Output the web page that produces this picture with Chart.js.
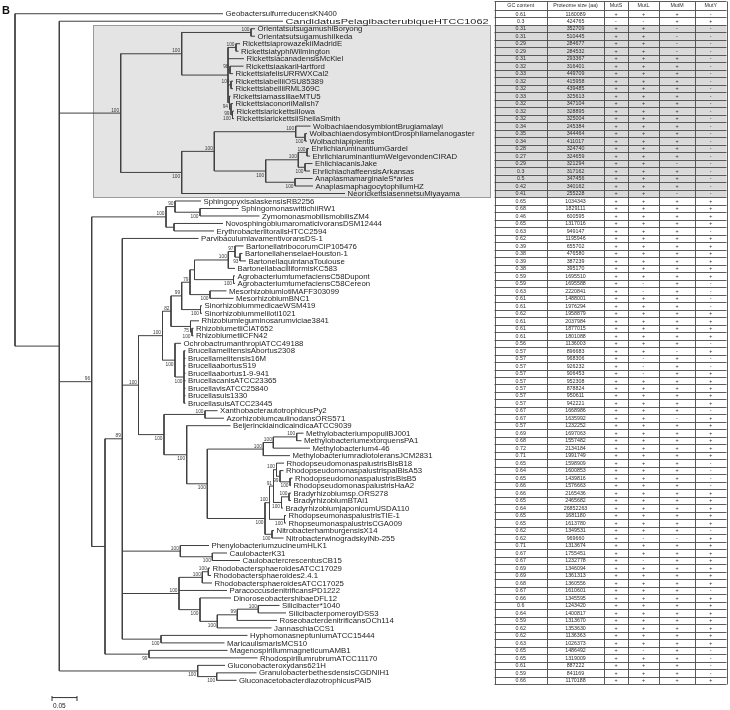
<!DOCTYPE html>
<html>
<head>
<meta charset="utf-8">
<script src="https://cdn.jsdelivr.net/npm/chart.js@4.4.1/dist/chart.umd.min.js"></script>
<style>
html, body { margin: 0; padding: 0; background: #fff; }
canvas { display: block; }
</style>
</head>
<body>
<canvas id="tree_chart" width="730" height="710"></canvas>
<script>
// leaf order = table row order
var taxa = [
    'GeobactersulfurreducensKN400', 'CandidatusPelagibacterubiqueHTCC1062',
    'OrientatsutsugamushiBoryong', 'OrientatsutsugamushiIkeda',
    'RickettsiaprowazekiiMadridE', 'RickettsiatyphiWilmington', 'RickettsiacanadensisMcKiel',
    'RickettsiaakariHartford', 'RickettsiafelisURRWXCal2', 'RickettsiabelliiOSU85389',
    'RickettsiabelliiRML369C', 'RickettsiamassiliaeMTU5', 'RickettsiaconoriiMalish7',
    'RickettsiarickettsiiIowa', 'RickettsiarickettsiiSheilaSmith',
    'WolbachiaendosymbiontBrugiamalayi', 'WolbachiaendosymbiontDrosphilamelanogaster', 'Wolbachiapipientis',
    'EhrlichiaruminantiumGardel', 'EhrlichiaruminantiumWelgevondenCIRAD', 'EhlichiacanisJake',
    'EhrlichiachaffeensisArkansas', 'AnaplasmamarginaleS*aries', 'AnaplasmaphagocytophilumHZ',
    'NeorickettsiasennetsuMiyayama',
    'SphingopyxisalaskensisRB2256', 'SphingomonaswittichiiRW1', 'ZymomonasmobilismobilisZM4',
    'NovosphingobiumaromaticivoransDSM12444', 'ErythrobacterlitoralisHTCC2594',
    'ParvibaculumlavamentivoransDS-1',
    'BartonellatribocorumCIP105476', 'BartonellahenselaeHouston-1', 'BartonellaquintanaToulouse',
    'BartonellabacilliformisKC583', 'AgrobacteriumtumefaciensC58Dupont', 'AgrobacteriumtumefaciensC58Cereon',
    'MesorhizobiumlotiMAFF303099', 'MesorhizobiumBNC1', 'SinorhizobiummedicaeWSM419',
    'Sinorhizobiummeliloti1021', 'Rhizobiumleguminosarumviciae3841', 'RhizobiumetliCIAT652',
    'RhizobiumetliCFN42', 'OchrobactrumanthropiATCC49188', 'BrucellamelitensisAbortus2308',
    'Brucellamelitensis16M', 'BrucellaabortusS19', 'Brucellaabortus1-9-941', 'BrucellacanisATCC23365',
    'BrucellavisATCC25840', 'Brucellasuis1330', 'BrucellasuisATCC23445',
    'XanthobacterautotrophicusPy2', 'AzorhizobiumcaulinodansORS571', 'BeijerinckiaindicaindicaATCC9039',
    'MethylobacteriumpopuliBJ001', 'MethylobacteriumextorquensPA1', 'Methylobacterium4-46',
    'MethylobacteriumradiotoleransJCM2831', 'RhodopseudomonaspalustrisBisB18',
    'RhodopseudomonaspalustrispalBisA53', 'RhodopseudomonaspalustrisBisB5', 'RhodopseudomonaspalustrisHaA2',
    'Bradyrhizobiumsp.ORS278', 'BradyrhizobiumBTAi1', 'BradyrhizobiumjaponicumUSDA110',
    'RhodopseumonaspalustrisTIE-1', 'RhopseumonaspalustrisCGA009', 'NitrobacterhamburgensisX14',
    'NitrobacterwinogradskyiNb-255', 'PhenylobacteriumzucineumHLK1', 'CaulobacterK31',
    'CaulobactercrescentusCB15', 'RhodobactersphaeroidesATCC17029', 'Rhodobactersphaeroides2.4.1',
    'RhodobactersphaeroidesATCC17025', 'ParacoccusdenitrificansPD1222', 'DinoroseobactershibaeDFL12',
    'Silicibacter*1040', 'SilicibacterpomeroyiDSS3', 'RoseobacterdenitrificansOCh114', 'JannaschiaCCS1',
    'HyphomonasneptuniumATCC15444', 'MaricaulismarisMCS10', 'MagenospirillummagneticumAMB1',
    'RhodospirillumrubrumATCC11170', 'Gluconobacteroxydans621H', 'GranulobacterbethesdensisCGDNIH1',
    'GluconacetobacterdiazotrophicusPAI5'
];

var gcContent = [
    0.61, 0.3, 0.31, 0.31, 0.29, 0.29, 0.31, 0.32, 0.33, 0.32,
    0.32, 0.33, 0.32, 0.32, 0.32, 0.34, 0.35, 0.34, 0.28, 0.27,
    0.29, 0.3, 0.5, 0.42, 0.41, 0.65, 0.68, 0.46, 0.65, 0.63,
    0.62, 0.39, 0.38, 0.39, 0.38, 0.59, 0.59, 0.63, 0.61, 0.61,
    0.62, 0.61, 0.61, 0.61, 0.56, 0.57, 0.57, 0.57, 0.57, 0.57,
    0.57, 0.57, 0.57, 0.67, 0.67, 0.57, 0.69, 0.68, 0.72, 0.71,
    0.65, 0.64, 0.65, 0.66, 0.66, 0.65, 0.64, 0.65, 0.65, 0.62,
    0.62, 0.71, 0.67, 0.67, 0.69, 0.69, 0.68, 0.67, 0.66, 0.6,
    0.64, 0.59, 0.62, 0.62, 0.63, 0.65, 0.65, 0.61, 0.59, 0.66
];

var proteomeSize = [
    1160089, 424765, 352709, 510445, 284677, 284532, 293367, 316401, 449709, 415958,
    439485, 325613, 347104, 328895, 325004, 245384, 344464, 411017, 324740, 324659,
    321294, 317162, 347456, 340162, 255228, 1034343, 1829111, 600595, 1317016, 949147,
    1195946, 655702, 476580, 387239, 395170, 1695510, 1695588, 2220841, 1488001, 1976294,
    1958879, 2037984, 1877015, 1801088, 1136003, 896683, 968306, 926232, 906453, 952308,
    878824, 950611, 942221, 1668986, 1635992, 1232252, 1697063, 1557482, 2134184, 1991749,
    1598909, 1600853, 1439816, 1576663, 2165436, 2465682, 26852263, 1681180, 1613780, 1349531,
    969660, 1313674, 1755451, 1232778, 1346094, 1361313, 1360556, 1610601, 1345595, 1243420,
    1400817, 1313670, 1353630, 1136363, 1026373, 1486492, 1319009, 887222, 841169, 1170188
];

// presence (+) / absence (-) per row, ten rows per block
var mutS = ('+-++++++++' + '++++++++++' + '++++++++++' + '++++++++++' + '++++++++++' +
            '++++++++++' + '++++++++++' + '++++++++++' + '++++++++++').split('');
var mutL = ('+-++++++++' + '++++++++++' + '++++++++++' + '++++++--++' + '++++++---+' +
            '++++++++++' + '++++++++++' + '-++-++++++' + '+++++-++++').split('');
var mutM = ('++----++++' + '++++++++++' + '-+++-+++++' + '++++++++++' + '+++++-++++' +
            '++++-+++++' + '++++++++++' + '-+++++++++' + '++++++++++').split('');
var mutY = ('-+--------' + '----------' + '-----++++-' + '++++++----' + '++++-+--++' +
            '+++-++++++' + '----+++++-' + '+++++++-++' + '+++++----+').split('');

var tableHeaders = ['GC content', 'Proteome size (aa)', 'MutS', 'MutL', 'MutM', 'MutY'];

// tree, leaves given by row index, internal labels = bootstrap
var treeNewick = [
    '(0:0.416,(1:0.4474,',
    '(((2:0.008,3:0.008)100:0.1386,((4:0.008,5:0.005)100:0.016,6:0.032,(7:0.027,8:0.006)98:0.004,',
    '(9:0.004,10:0.004)100:0.006,(11:0.002,(12:0.004,(13:0.003,14:0.003)100:0.003)99:0.003)94:0.003):0.0926)100:0.122,',
    '(((15:0.0296,(16:0.004,17:0.004)100:0.0186)100:0.1628,(((18:0.004,19:0.006)100:0.0174,',
    '(20:0.015,21:0.01)100:0.0134)100:0.0652,(22:0.035,23:0.036)100:0.0586)100:0.1028)100:0.0652,',
    '24:0.3266)100:0.122)100:0.1228,',
    '(((25:0.052,(26:0.077,27:0.119)100:0.05)90:0.018,(28:0.098,29:0.08):0.016)100:0.1486,',
    '((30:0.1524,',
    '((((((((31:0.017,(32:0.005,33:0.012)93:0.01)97:0.0134,34:0.0134)100:0.0676,(35:0.003,36:0.003)100:0.078):0.009,',
    '(37:0.033,38:0.047)100:0.04)79:0.0166,(39:0.003,40:0.003)100:0.0376)99:0.0214,',
    '(41:0.017,(42:0.003,43:0.003)100:0.003)75:0.039)82:0.017,',
    '(44:0.012,(45:0.003,46:0.003,47:0.003,48:0.003,49:0.003,50:0.003,51:0.003,52:0.003)100:0.018)100:0.025)100:0.048,',
    '((53:0.025,54:0.038)100:0.082,(55:0.0876,',
    '((((56:0.0136,57:0.0096)100:0.0468,58:0.0734)100:0.02,59:0.0534)100:0.112,',
    '((((60:0.015,(61:0.007,(62:0.005,63:0.002)100:0.02)99:0.007)100:0.006,',
    '((64:0.004,65:0.004)100:0.015,66:0.003)100:0.016)91:0.008,(67:0.003,68:0.003)100:0.03)100:0.009,',
    '(69:0.004,70:0.023)100:0.014)100:0.1154)100:0.0412)100:0.0454)100:0.051)100:0.0324,',
    '(71:0.0574,(72:0.0294,73:0.0554)100:0.064)100:0.116,',
    '(((74:0.0034,75:0.0054)100:0.012,76:0.0194)100:0.0466,77:0.096,',
    '(78:0.062,(((79:0.0424,80:0.0554)100:0.042,81:0.0794)99:0.04,82:0.1084)100:0.0346)100:0.042)100:0.1134,',
    '(83:0.173,84:0.127)100:0.0774)89:0.0346,',
    '(85:0.157,86:0.217)99:0.088):0.0266)96:0.0648,',
    '(87:0.0546,(88:0.0796,89:0.0396)100:0.038)100:0.2768):0.0886);'
].join('');

var boxedRows = [2, 24];
var scaleBarLength = 0.05;

function parseNewick(text) {
    var s = text.replace(/\s+/g, '');
    var i = 0;
    function readNode() {
        var n = { children: [], name: '', len: 0 };
        if (s[i] === '(') {
            i++;
            n.children.push(readNode());
            while (s[i] === ',') {
                i++;
                n.children.push(readNode());
            }
            i++;
        }
        var tok = '';
        while (i < s.length && ':,);'.indexOf(s[i]) < 0) tok += s[i++];
        n.name = tok;
        if (s[i] === ':') {
            i++;
            var num = '';
            while (i < s.length && ',);'.indexOf(s[i]) < 0) num += s[i++];
            n.len = parseFloat(num);
        }
        return n;
    }
    return readNode();
}

var leafNodes = [];
var innerNodes = [];

function layout(n, parent, x0) {
    n.parent = parent;
    n.x = x0 + n.len;
    if (n.children.length === 0) {
        n.row = parseInt(n.name, 10);
        n.y = n.row;
        leafNodes.push(n);
    } else {
        for (var k = 0; k < n.children.length; ++k) layout(n.children[k], n, n.x);
        n.y = (n.children[0].y + n.children[n.children.length - 1].y) / 2;
        innerNodes.push(n);
    }
}

var treeRoot = parseNewick(treeNewick);
layout(treeRoot, null, 0);

var branchPts = [];
innerNodes.forEach(function (n) {
    var first = n.children[0], last = n.children[n.children.length - 1];
    branchPts.push({ x: n.x, y: first.y }, { x: n.x, y: last.y }, { x: NaN, y: NaN });
    n.children.forEach(function (c) {
        branchPts.push({ x: n.x, y: c.y }, { x: c.x, y: c.y }, { x: NaN, y: NaN });
    });
});

var scaleBarStart = 0.074;
var scaleBarRow = 91.3;

var treeTablePlugin = {
    id: 'treeTable',
    beforeDatasetsDraw: function (chart) {
        var ctx = chart.ctx, y = chart.scales.y;
        var top = Math.round(y.getPixelForValue(boxedRows[0] - 0.5)) + 0.5;
        var bottom = Math.round(y.getPixelForValue(boxedRows[1] + 0.5)) + 0.5;
        ctx.save();
        ctx.fillStyle = '#e4e4e4';
        ctx.fillRect(93.5, top, 397, bottom - top);
        ctx.strokeStyle = '#9a9a9a';
        ctx.lineWidth = 1;
        ctx.strokeRect(93.5, top, 397, bottom - top);
        ctx.restore();
    },
    afterDatasetsDraw: function (chart) {
        var ctx = chart.ctx, x = chart.scales.x, y = chart.scales.y;
        ctx.save();

        // leaf names
        ctx.fillStyle = '#1e1e1e';
        ctx.font = '7.8px "Liberation Sans", Arial, sans-serif';
        ctx.textBaseline = 'middle';
        ctx.textAlign = 'left';
        leafNodes.forEach(function (n) {
            var px = x.getPixelForValue(n.x) + 2.5, py = y.getPixelForValue(n.y) + 0.5;
            if (n.row === 1) {
                var w = ctx.measureText(taxa[n.row]).width;
                ctx.save();
                ctx.translate(px, py);
                ctx.scale(203 / w, 1);
                ctx.fillText(taxa[n.row], 0, 0);
                ctx.restore();
            } else {
                ctx.fillText(taxa[n.row], px, py);
            }
        });

        // bootstrap values
        ctx.fillStyle = '#3a3a3a';
        ctx.font = '4.8px "Liberation Sans", Arial, sans-serif';
        ctx.textAlign = 'right';
        ctx.textBaseline = 'alphabetic';
        innerNodes.forEach(function (n) {
            if (!n.name || !n.parent) return;
            var sib = n.parent.children;
            var isLast = sib[sib.length - 1] === n;
            var px = x.getPixelForValue(n.x) - 1.5, py = y.getPixelForValue(n.y);
            ctx.fillText(n.name, px, isLast ? py + 5.5 : py - 1.5);
        });

        // scale bar
        var sx0 = x.getPixelForValue(scaleBarStart), sx1 = x.getPixelForValue(scaleBarStart + scaleBarLength);
        var sy = Math.round(y.getPixelForValue(scaleBarRow)) + 0.5;
        ctx.strokeStyle = '#333';
        ctx.lineWidth = 1;
        ctx.beginPath();
        ctx.moveTo(sx0, sy - 2.5); ctx.lineTo(sx0, sy + 2.5);
        ctx.moveTo(sx1, sy - 2.5); ctx.lineTo(sx1, sy + 2.5);
        ctx.stroke();
        ctx.fillStyle = '#222';
        ctx.font = '6.5px "Liberation Sans", Arial, sans-serif';
        ctx.textAlign = 'left';
        ctx.fillText(String(scaleBarLength), sx0 + 1, sy + 9.5);

        // panel letter
        ctx.font = 'bold 11px "Liberation Sans", Arial, sans-serif';
        ctx.fillStyle = '#111';
        ctx.fillText('B', 2, 14);

        // table
        var cols = [494.5, 547, 604, 628, 659, 695, 726.5];
        var headTop = Math.round(y.getPixelForValue(-1.7)) + 0.5;
        var bodyTop = y.getPixelForValue(-0.5);
        var bodyBottom = y.getPixelForValue(taxa.length - 0.5);
        ctx.fillStyle = '#ffffff';
        ctx.fillRect(cols[0], headTop, cols[6] - cols[0], bodyBottom - headTop);
        ctx.fillStyle = '#d9d9d9';
        for (var r = boxedRows[0]; r <= boxedRows[1]; ++r) {
            var t = y.getPixelForValue(r - 0.5);
            ctx.fillRect(cols[0], t, cols[6] - cols[0], y.getPixelForValue(r + 0.5) - t);
        }
        ctx.strokeStyle = '#4a4a4a';
        ctx.lineWidth = 0.9;
        ctx.beginPath();
        ctx.moveTo(cols[0], headTop); ctx.lineTo(cols[6], headTop);
        for (var b = 0; b <= taxa.length; ++b) {
            var ly = Math.round(y.getPixelForValue(b - 0.5)) + 0.5;
            ctx.moveTo(cols[0], ly); ctx.lineTo(cols[6], ly);
        }
        cols.forEach(function (cx) {
            var lx = Math.round(cx) + 0.5;
            ctx.moveTo(lx, headTop); ctx.lineTo(lx, Math.round(bodyBottom) + 0.5);
        });
        ctx.stroke();

        ctx.fillStyle = '#2e2e2e';
        ctx.textAlign = 'center';
        ctx.textBaseline = 'middle';
        ctx.font = '5.3px "Liberation Sans", Arial, sans-serif';
        var headMid = (headTop + bodyTop) / 2;
        tableHeaders.forEach(function (h, c) {
            ctx.fillText(h, (cols[c] + cols[c + 1]) / 2, headMid);
        });
        for (var i = 0; i < taxa.length; ++i) {
            var cy = y.getPixelForValue(i) + 0.3;
            var cells = [String(gcContent[i]), String(proteomeSize[i]), mutS[i], mutL[i], mutM[i], mutY[i]];
            cells.forEach(function (v, c) {
                ctx.fillText(v, (cols[c] + cols[c + 1]) / 2, cy);
            });
        }
        ctx.restore();
    }
};

new Chart(document.getElementById('tree_chart').getContext('2d'), {
    type: 'scatter',
    data: {
        datasets: [{
            label: 'branches',
            data: branchPts,
            showLine: true,
            spanGaps: false,
            borderColor: '#3f3f3f',
            borderWidth: 1,
            pointRadius: 0,
            tension: 0
        }, {
            label: 'scale',
            data: [{ x: scaleBarStart, y: scaleBarRow }, { x: scaleBarStart + scaleBarLength, y: scaleBarRow }],
            showLine: true,
            borderColor: '#333',
            borderWidth: 1,
            pointRadius: 0
        }]
    },
    options: {
        responsive: false,
        devicePixelRatio: 1,
        animation: false,
        events: [],
        layout: { padding: 0 },
        plugins: {
            legend: { display: false },
            tooltip: { enabled: false }
        },
        scales: {
            x: { type: 'linear', display: false, min: -0.03, max: 1.43 },
            y: { type: 'linear', display: false, reverse: true, min: -1.835, max: 92.96 }
        }
    },
    plugins: [treeTablePlugin]
});
</script>
</body>
</html>
